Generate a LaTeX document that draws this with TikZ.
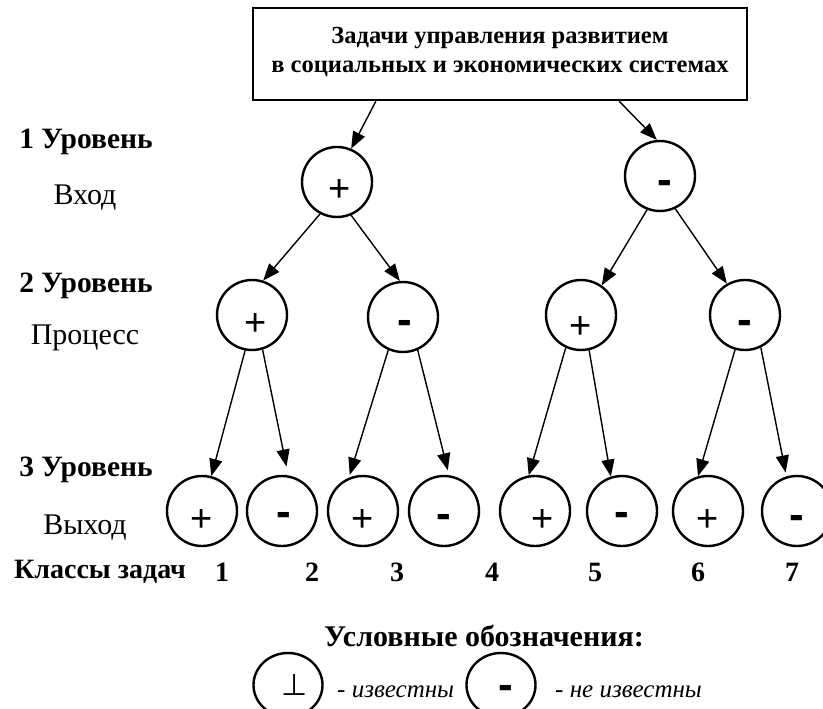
\documentclass[tikz,border=0pt]{standalone}
\usepackage{fontspec}
\setmainfont{Liberation Serif}
\newfontfamily\signfont{Liberation Sans}
\newfontfamily\symfont{DejaVu Sans}
\usetikzlibrary{arrows.meta,calc,shapes.geometric}
\newcommand{\plsign}[1][-20pt]{\raisebox{#1}[0pt][0pt]{+}}
\newcommand{\mnsign}[1][-17pt]{\raisebox{#1}[0pt][0pt]{-}}
\begin{document}
\begin{tikzpicture}[x=1pt,y=-1pt,
  circ/.style={circle,draw,line width=2.4pt,minimum size=70pt,inner sep=0pt},
  lcirc/.style={ellipse,draw,line width=2.4pt,minimum width=69pt,minimum height=64pt,inner sep=0pt},
  arr/.style={-{Triangle[length=17pt,width=13pt]},line width=1.4pt},
  lvl/.style={font=\bfseries\fontsize{29.5}{32}\selectfont,inner sep=0pt},
  sub/.style={font=\fontsize{30}{32}\selectfont,inner sep=0pt},
  num/.style={font=\bfseries\fontsize{28}{30}\selectfont,inner sep=0pt},
  pl/.style={font=\signfont\fontsize{38}{40}\selectfont},
  mi/.style={font=\signfont\bfseries\fontsize{44}{46}\selectfont},
  leg/.style={font=\itshape\fontsize{25}{27}\selectfont,inner sep=0pt}]
\useasboundingbox (0,0) rectangle (823,709);
% top box
\node[draw,line width=2.4pt,minimum width=494pt,minimum height=92pt,align=center,
      font=\bfseries\fontsize{24.5}{29}\selectfont] (top) at (500,54)
  {Задачи управления развитием\\в социальных и экономических системах\\[-21pt]\mbox{}};
% level labels
\node[lvl] (t1) at (86,142) {1 Уровень};
\node[sub] (s1) at (85,198) {Вход};
\node[lvl] (t2) at (86,286) {2 Уровень};
\node[sub] (s2) at (85,338) {Процесс};
\node[lvl] (t3) at (86,470) {3 Уровень};
\node[sub] (s3) at (85,528) {Выход};
\node[lvl,font=\bfseries\fontsize{28}{30}\selectfont] (cls) at (100,572) {Классы задач};
% level 1
\node[circ,pl] (A) at (337,182) {\hspace{5pt}\plsign};
\node[circ,mi] (B) at (660,176) {\hspace{10pt}\mnsign[-18pt]};
% level 2
\node[circ,pl] (C) at (252,315) {\hspace{8pt}\plsign};
\node[circ,mi] (D) at (403,317) {\hspace{3pt}\mnsign[-17pt]};
\node[circ,pl] (E) at (581,315) {\plsign[-23pt]};
\node[circ,mi] (F) at (745,315) {\mnsign[-19pt]};
% level 3
\node[circ,pl] (L1) at (202,511) {\plsign};
\node[circ,mi] (L2) at (282,511) {\hspace{4pt}\mnsign[-15pt]};
\node[circ,pl] (L3) at (363,511) {\plsign};
\node[circ,mi] (L4) at (444,511) {\mnsign[-17pt]};
\node[circ,pl] (L5) at (535,511) {\hspace{15pt}\plsign};
\node[circ,mi] (L6) at (622,511) {\mnsign[-15pt]};
\node[circ,pl] (L7) at (708,511) {\plsign};
\node[circ,mi] (L8) at (797,511) {\mnsign[-18pt]};
% class numbers
\node[num] (n1) at (222,572) {1};
\node[num] (n2) at (312,572) {2};
\node[num] (n3) at (397,572) {3};
\node[num] (n4) at (492,572) {4};
\node[num] (n5) at (595,572) {5};
\node[num] (n6) at (698,572) {6};
\node[num] (n7) at (792,572) {7};
% arrows
\draw[arr] ($(top.south west)!0.25!(top.south east)$) -- (A.67);
\draw[arr] ($(top.south west)!0.74!(top.south east)$) -- (B.95);
\draw[arr] (A.242) -- (C.72);
\draw[arr] (A.293) -- (D.95);
\draw[arr] (B.249) -- (E.55);
\draw[arr] (B.295) -- (F.120);
\draw[arr] (C.259) -- (L1.75);
\draw[arr,shorten >=9pt] (C.287) -- (L2.80);
\draw[arr,shorten >=3pt] (D.246) -- (L3.113);
\draw[arr,shorten >=5pt] (D.294) -- (L4.82);
\draw[arr] (E.245) -- (L5.100);
\draw[arr] (E.283) -- (L6.108);
\draw[arr] (F.254) -- (L7.106);
\draw[arr,shorten >=4pt] (F.296) -- (L8.107);
% legend
\node[font=\bfseries\fontsize{30}{32}\selectfont] (lt) at (484,636) {Условные обозначения:};
\node[lcirc,font=\symfont\fontsize{30}{32}\selectfont] (g1) at (288,685) {\hspace{14pt}\raisebox{-3pt}{⊥}};
\node[leg,anchor=west] (g1t) at (337,692) {- известны};
\node[lcirc,mi] (g2) at (501,685) {\hspace{10pt}\mnsign[-14pt]};
\node[leg,anchor=west] (g2t) at (555,692) {- не известны};
\end{tikzpicture}
\end{document}
